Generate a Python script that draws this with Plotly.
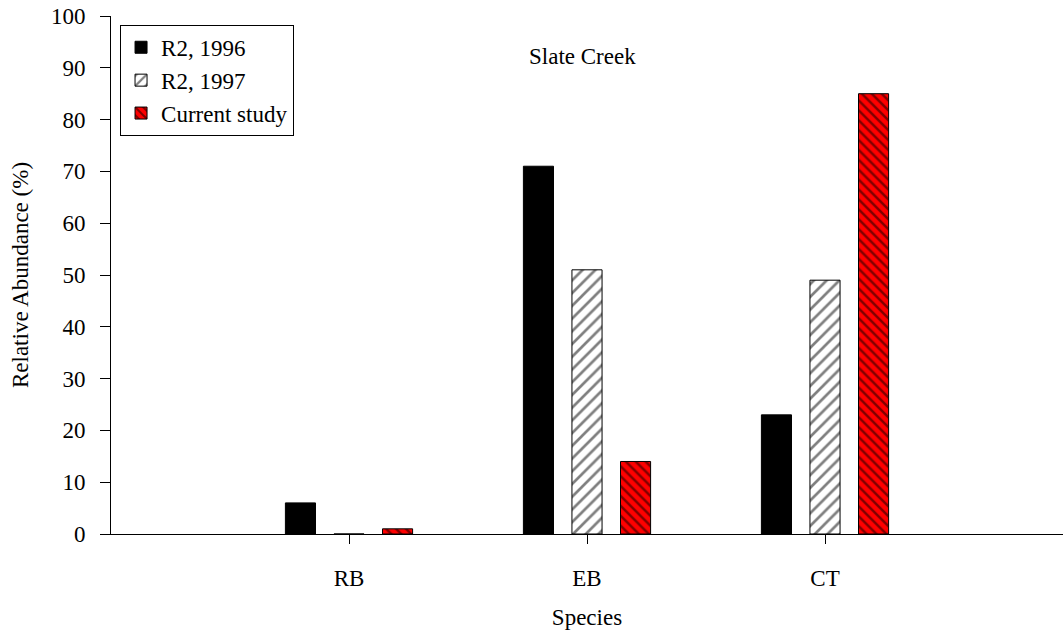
import plotly.graph_objects as go

# Relative abundance (%) of each species, Slate Creek
species = ["RB", "EB", "CT"]
r2_1996 = [6, 71, 23]
r2_1997 = [0, 51, 49]
current_study = [1, 14, 85]

series_names = ["R2, 1996", "R2, 1997", "Current study"]
y_ticks = list(range(0, 101, 10))

FONT = "Liberation Serif"
SIZE = 23

fig = go.Figure()

fig.add_trace(go.Bar(
    name=series_names[0], x=species, y=r2_1996,
    marker=dict(color="black", line=dict(color="black", width=1)),
))
fig.add_trace(go.Bar(
    name=series_names[1], x=species, y=r2_1997,
    marker=dict(color="white", line=dict(color="black", width=1),
                pattern=dict(shape="/", fgcolor="black", bgcolor="white",
                             size=9, solidity=0.3)),
))
fig.add_trace(go.Bar(
    name=series_names[2], x=species, y=current_study,
    marker=dict(color="red", line=dict(color="black", width=1),
                pattern=dict(shape="\\", fgcolor="black", bgcolor="red",
                             size=7, solidity=0.35)),
))

fig.update_layout(
    width=1063, height=631,
    margin=dict(l=111, r=0, t=16, b=97),
    paper_bgcolor="white", plot_bgcolor="white",
    barmode="group", bargap=0.388, bargroupgap=0.38,
    font=dict(family=FONT, size=SIZE, color="black"),
    showlegend=True,
    legend=dict(
        x=0.0095, y=0.983, xanchor="left", yanchor="top",
        bordercolor="black", borderwidth=1, bgcolor="white",
        font=dict(family=FONT, size=SIZE), tracegroupgap=0,
    ),
    annotations=[dict(
        text="Slate Creek", xref="paper", yref="paper",
        x=0.495, y=0.921, xanchor="center", yanchor="middle",
        showarrow=False, font=dict(family=FONT, size=SIZE),
    )],
)

fig.update_xaxes(
    type="category", range=[-1, 3],
    showline=True, linecolor="black", linewidth=1,
    ticks="outside", ticklen=9, tickcolor="black",
    ticklabelstandoff=14,
    showgrid=False, zeroline=False,
    title=dict(text="Species", standoff=19, font=dict(family=FONT, size=SIZE)),
)
fig.update_yaxes(
    range=[0, 100], tickvals=y_ticks,
    showline=True, linecolor="black", linewidth=1,
    ticks="outside", ticklen=10, tickcolor="black",
    ticklabelstandoff=10,
    showgrid=False, zeroline=False,
    title=dict(text="Relative Abundance (%)", standoff=15,
               font=dict(family=FONT, size=SIZE)),
)

fig.write_html("out.html")
